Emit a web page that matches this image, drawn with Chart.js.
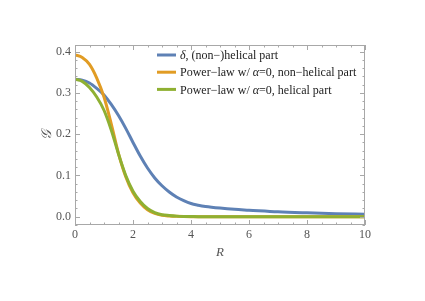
<!DOCTYPE html>
<html lang="en">
<head>
    <meta charset="UTF-8">
    <title>G(R) curves</title>
    <script src="https://cdn.jsdelivr.net/npm/chart.js"></script>
    <style>
        html, body { margin: 0; padding: 0; background: #fff; }
    </style>
</head>
<body>
    <canvas id="gChart" width="425" height="301"></canvas>

    <script>
    // values
    const rValues = [0, 0.25, 0.5, 0.75, 1, 1.25, 1.5, 1.75, 2, 2.25, 2.5, 2.75, 3, 3.25, 3.5, 3.75, 4, 4.25, 4.5, 5, 5.5, 6, 7, 8, 9, 10];
    const deltaPart = [0.333, 0.331, 0.324, 0.311, 0.295, 0.272, 0.245, 0.214, 0.180, 0.147, 0.118, 0.094, 0.075, 0.060, 0.048, 0.039, 0.032, 0.028, 0.025, 0.021, 0.018, 0.016, 0.012, 0.0095, 0.0075, 0.006];
    const powerNonHelical = [0.392, 0.386, 0.369, 0.336, 0.290, 0.225, 0.153, 0.097, 0.058, 0.033, 0.017, 0.008, 0.0035, 0.0018, 0.001, 0.0005, 0.0002, 0, 0, 0, 0, 0, 0, 0, 0, 0];
    const powerHelical = [0.333, 0.328, 0.313, 0.290, 0.258, 0.210, 0.152, 0.100, 0.062, 0.037, 0.020, 0.010, 0.005, 0.003, 0.0015, 0.0008, 0.0005, 0.0002, 0, 0, 0, 0, 0, 0, 0, 0];

    const xTicks = [0, 2, 4, 6, 8, 10];
    const yTicks = [0.0, 0.1, 0.2, 0.3, 0.4];

    // legend text, split so the greek letters can be set in italics
    const legendRows = [
        { color: '#5E81B5', parts: [['δ', true], [', (non\u2212)helical part', false]] },
        { color: '#E19C24', parts: [['Power\u2212law w/ ', false], ['α', true], ['=0, non\u2212helical part', false]] },
        { color: '#8FB032', parts: [['Power\u2212law w/ ', false], ['α', true], ['=0, helical part', false]] }
    ];

    const serif = '"Liberation Serif", "DejaVu Serif", serif';

    function toPoints(ys) {
        return rValues.map((r, i) => ({ x: r, y: ys[i] }));
    }

    // Mathematica-like frame: box on all sides with inward ticks, plus legend and axis titles
    const framePlugin = {
        id: 'framePlugin',
        afterDraw(chart) {
            const { ctx, chartArea: a, scales: { x, y } } = chart;
            ctx.save();
            ctx.strokeStyle = '#a8a8a8';
            ctx.lineWidth = 1;
            ctx.strokeRect(a.left + 0.5, a.top + 0.5, a.right - a.left - 1, a.bottom - a.top - 1);

            ctx.beginPath();
            for (let i = 0; i <= 20; i++) {
                const v = i * 0.5;
                const len = i % 4 === 0 ? 5 : 2.5;
                const px = Math.round(x.getPixelForValue(v)) + 0.5;
                ctx.moveTo(px, a.bottom); ctx.lineTo(px, a.bottom - len);
                ctx.moveTo(px, a.top); ctx.lineTo(px, a.top + len);
            }
            for (let i = -1; i <= 20; i++) {
                const v = i * 0.02;
                if (v < y.min || v > y.max) continue;
                const len = i % 5 === 0 ? 5 : 2.5;
                const py = Math.round(y.getPixelForValue(v)) + 0.5;
                ctx.moveTo(a.left, py); ctx.lineTo(a.left + len, py);
                ctx.moveTo(a.right, py); ctx.lineTo(a.right - len, py);
            }
            ctx.stroke();

            // axis titles
            ctx.fillStyle = '#555';
            ctx.textAlign = 'center';
            ctx.textBaseline = 'middle';
            ctx.font = 'italic 13px ' + serif;
            ctx.fillText('R', (a.left + a.right) / 2, a.bottom + 28);
            ctx.save();
            ctx.translate(a.left - 28, (a.top + a.bottom) / 2);
            ctx.rotate(-Math.PI / 2);
            ctx.font = 'italic 14px ' + serif;
            ctx.fillText('\u{1D4A2}', 0, 0);
            ctx.restore();

            // legend
            const lx = a.left + 82, ty = a.top + 10;
            ctx.textAlign = 'left';
            legendRows.forEach((row, i) => {
                const ly = ty + i * 17.2;
                ctx.strokeStyle = row.color;
                ctx.lineWidth = 3;
                ctx.beginPath();
                ctx.moveTo(lx, ly); ctx.lineTo(lx + 19, ly);
                ctx.stroke();
                let tx = lx + 23;
                ctx.fillStyle = '#222';
                row.parts.forEach(([t, it]) => {
                    ctx.font = (it ? 'italic ' : '') + '12px ' + serif;
                    ctx.fillText(t, tx, ly + 1);
                    tx += ctx.measureText(t).width;
                });
            });
            ctx.restore();
        }
    };

    new Chart(document.getElementById('gChart'), {
        type: 'line',
        data: {
            datasets: [
                { label: 'delta', data: toPoints(deltaPart), borderColor: '#5E81B5', order: 2 },
                { label: 'power non-helical', data: toPoints(powerNonHelical), borderColor: '#E19C24', order: 1 },
                { label: 'power helical', data: toPoints(powerHelical), borderColor: '#8FB032', order: 0 }
            ]
        },
        options: {
            responsive: false,
            animation: false,
            layout: { padding: { left: 0, right: 60, top: 45, bottom: 0 } },
            elements: {
                line: { borderWidth: 3, cubicInterpolationMode: 'monotone', fill: false },
                point: { radius: 0 }
            },
            plugins: {
                legend: { display: false },
                tooltip: { enabled: false }
            },
            scales: {
                x: {
                    type: 'linear',
                    min: 0,
                    max: 10,
                    afterBuildTicks: s => { s.ticks = xTicks.map(v => ({ value: v })); },
                    afterFit: s => { s.height = 76; },
                    grid: { display: false, drawTicks: false },
                    border: { display: false },
                    ticks: {
                        padding: 3,
                        color: '#555',
                        font: { family: serif, size: 12 },
                        maxRotation: 0,
                        callback: v => String(v)
                    }
                },
                y: {
                    type: 'linear',
                    min: -0.02,
                    max: 0.416,
                    afterBuildTicks: s => { s.ticks = yTicks.map(v => ({ value: v })); },
                    afterFit: s => { s.width = 75; },
                    grid: { display: false, drawTicks: false },
                    border: { display: false },
                    ticks: {
                        padding: 4,
                        color: '#555',
                        font: { family: serif, size: 12 },
                        callback: v => v.toFixed(1)
                    }
                }
            }
        },
        plugins: [framePlugin]
    });
    </script>
</body>
</html>
